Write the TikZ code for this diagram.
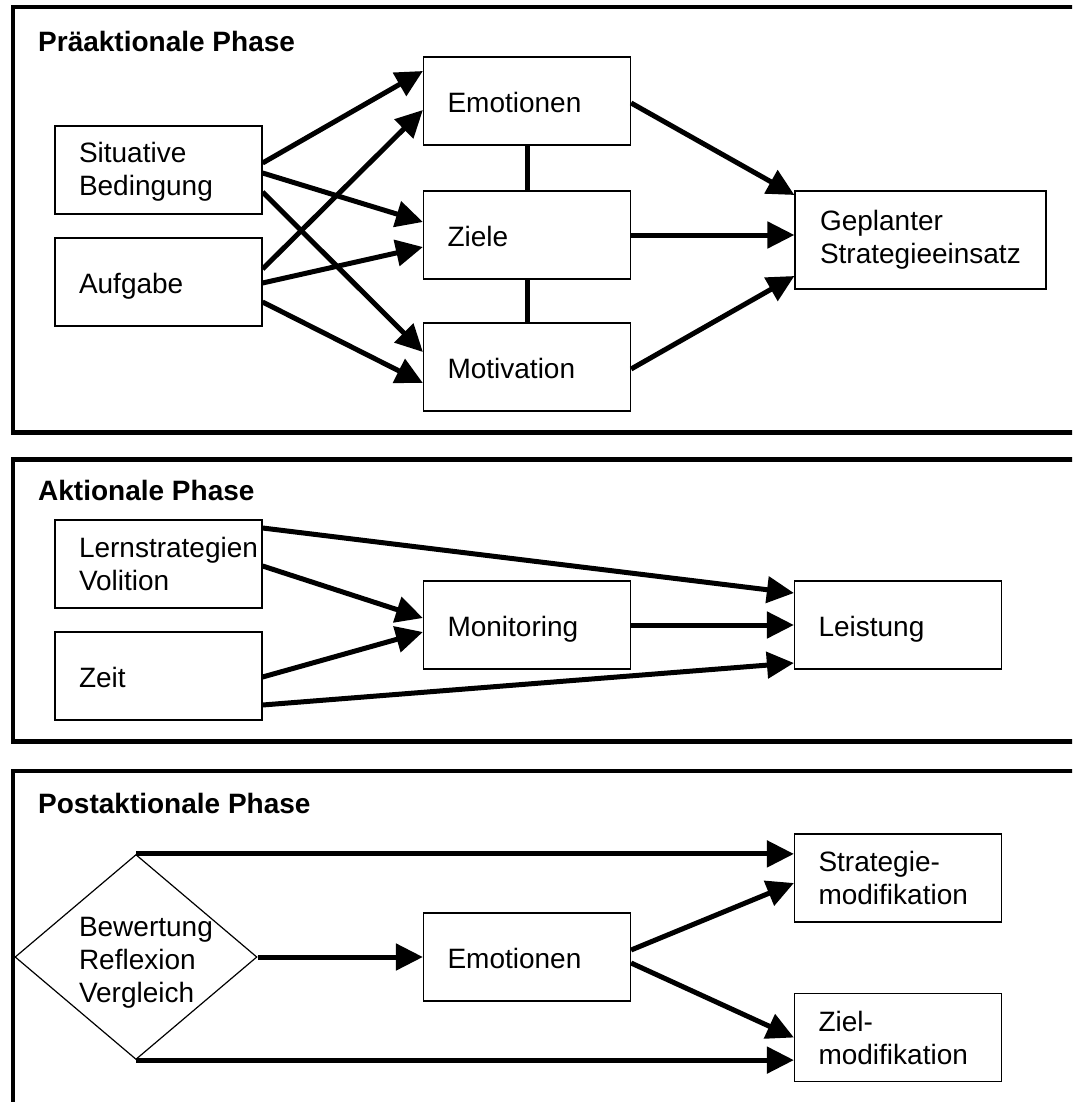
\documentclass[tikz,border=0pt]{standalone}
\usepackage{fontspec}
\setmainfont{Liberation Sans}
\usetikzlibrary{arrows.meta,shapes.geometric}
\hyphenpenalty=10000
\exhyphenpenalty=10000
\hfuzz=100pt
\hbadness=10000
\begin{document}
\begin{tikzpicture}[x=1pt, y=-1pt,
    every node/.style={font=\fontsize{28}{33}\selectfont},
    main/.style={draw, line width=1.2pt, minimum width=207pt, minimum height=88pt, text width=159pt, inner xsep=24pt, inner ysep=0pt, align=left},
    low/.style={text height=23pt, text depth=0pt},
    wide/.style={main, minimum width=251pt, minimum height=98pt, text width=201pt, inner xsep=25pt},
    rhomb/.style={draw, diamond, aspect=1.2, line width=1.2pt, minimum width=242pt, minimum height=205pt, inner sep=0pt, text width=114pt, text height=30pt, align=left},
    head/.style={anchor=base west, inner sep=0pt, font=\bfseries\fontsize{28}{33}\selectfont},
    phase/.style={line width=4.8pt},
    arr/.style={line width=5pt, -{Triangle[length=27pt, width=26pt]}},
    link/.style={line width=5pt}]
    \useasboundingbox (0,0) rectangle (1072,1102);
    \clip (0,0) rectangle (1072,1102);
    \fill[white] (0,0) rectangle (1072,1102);

    \draw[phase] (13,7) rectangle (1090,432.5);
    \draw[phase] (13,459.5) rectangle (1090,741.5);
    \draw[phase] (13,771) rectangle (1090,1120);

    \node[head] (p1) at (38,52) {Präaktionale Phase};
    \node[main, text height=24pt] (1) at (158.5,170) {Situative\\Bedingung};
    \node[main, low] (2) at (158.5,282) {Aufgabe};
    \node[main, low] (3) at (527,101) {Emotionen};
    \node[main, low] (4) at (527,235) {Ziele};
    \node[main, low] (5) at (527,367) {Motivation};
    \node[wide] (6) at (920.5,240) {Geplanter\\Strategieeinsatz};
    \draw[arr] ([yshift=7pt]1.east) -- ([yshift=30pt]3.west);
    \draw[arr] ([yshift=-3pt]1.east) -- ([yshift=13pt]4.west);
    \draw[arr] ([yshift=-22pt]1.east) -- ([yshift=15pt]5.west);
    \draw[arr] ([yshift=13pt]2.east) -- ([yshift=-9pt]3.west);
    \draw[arr] ([yshift=-1pt]2.east) -- ([yshift=-12pt]4.west);
    \draw[arr] ([yshift=-20pt]2.east) -- ([yshift=-16pt]5.west);
    \draw[link] (3) -- (4);
    \draw[link] (4) -- (5);
    \draw[arr] ([yshift=-2pt]3.east) -- ([yshift=45pt]6.west);
    \draw[arr] (4.east) -- (4.east -| 6.west);
    \draw[arr] ([yshift=-2pt]5.east) -- ([yshift=-36pt]6.west);

    \node[head] (p2) at (38,500) {Aktionale Phase};
    \node[main] (7) at (158.5,564) {Lernstrategien\\Volition};
    \node[main, low] (8) at (158.5,676) {Zeit};
    \node[main, low] (9) at (527,625) {Monitoring};
    \node[main, low] (10) at (898,625) {Leistung};
    \draw[arr] ([yshift=36pt]7.east) -- ([yshift=32pt]10.west);
    \draw[arr] ([yshift=-2pt]7.east) -- ([yshift=7pt]9.west);
    \draw[arr] ([yshift=-1pt]8.east) -- ([yshift=-7pt]9.west);
    \draw[arr] ([yshift=-29pt]8.east) -- ([yshift=-38pt]10.west);
    \draw[arr] (9) -- (10);

    \node[head] (p3) at (38,813) {Postaktionale Phase};
    \node[rhomb] (11) at (136,957) {Bewertung\\Reflexion\\Vergleich};
    \node[main, low] (12) at (527,957) {Emotionen};
    \node[main] (13) at (898,878) {Strategie-\\modifikation};
    \node[main] (14) at (898,1037.5) {Ziel-\\modifikation};
    \draw[arr] (11.north) -- (11.north -| 13.west);
    \draw[arr] (11) -- (12);
    \draw[arr] (11.south) -- (11.south -| 14.west);
    \draw[arr] ([yshift=7pt]12.east) -- ([yshift=-5pt]13.west);
    \draw[arr] ([yshift=-6pt]12.east) -- (14.west);
\end{tikzpicture}
\end{document}
